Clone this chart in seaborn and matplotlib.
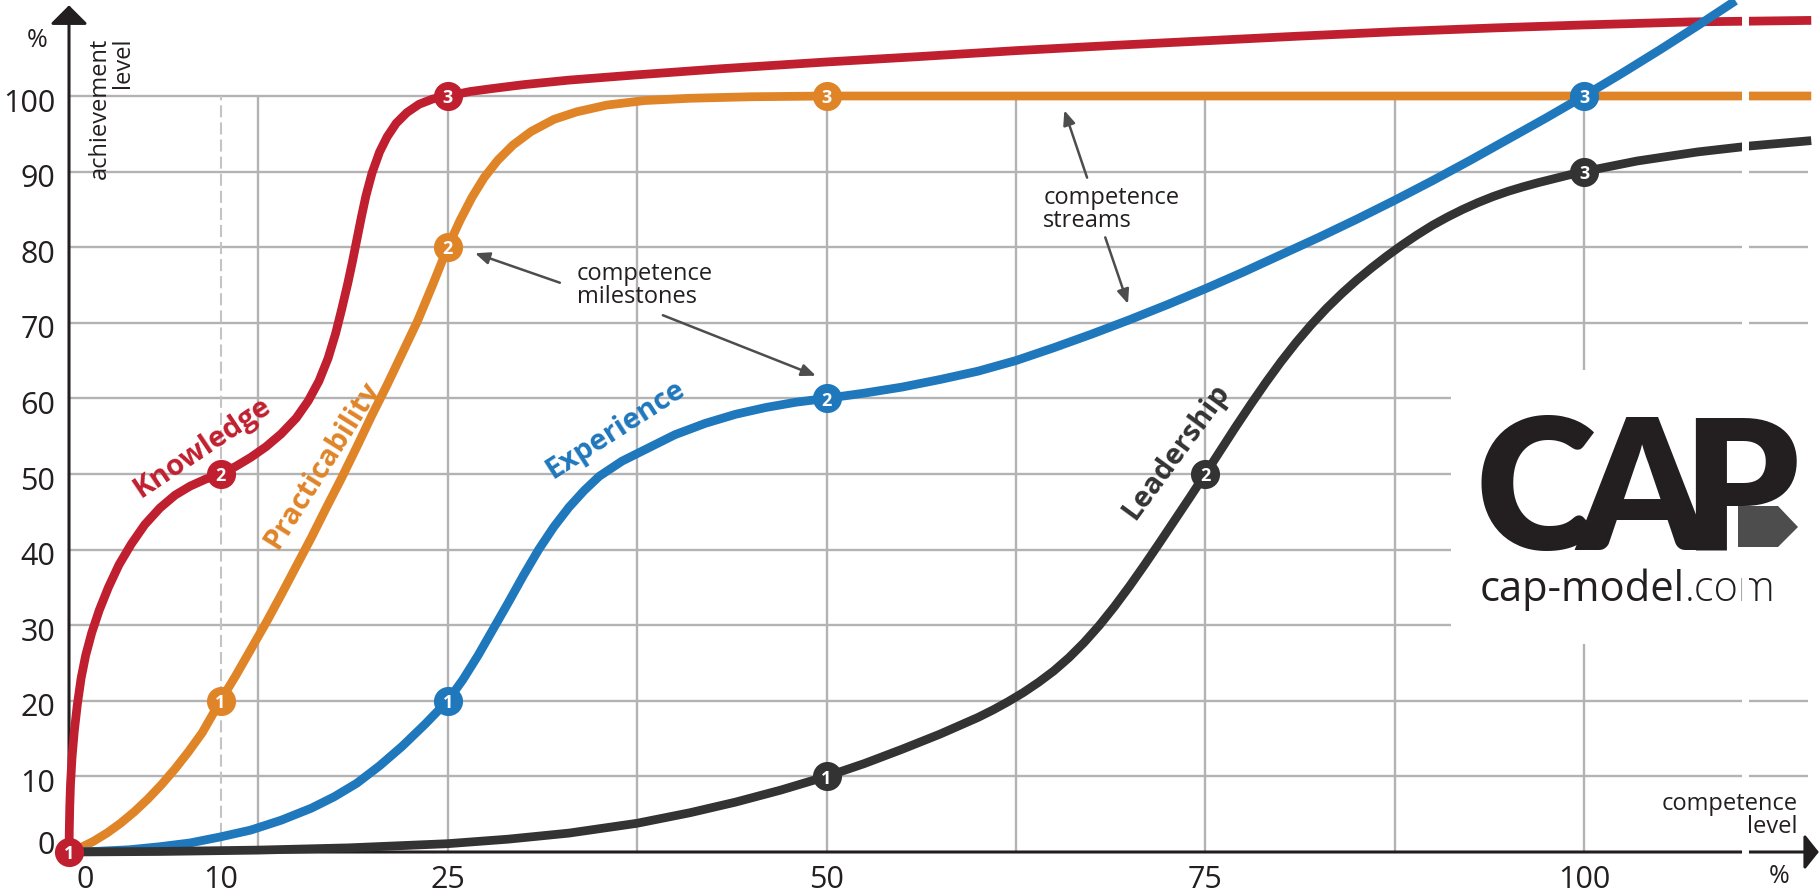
import matplotlib.pyplot as plt
import seaborn as sns
from matplotlib.patches import Polygon
from matplotlib.transforms import ScaledTranslation

# competence level (x, %) vs achievement level (y, %)
knowledge_x = [0, 0.02, 0.05, 0.1, 0.2, 0.35, 0.55, 0.8, 1.1, 1.5, 2.0, 2.6, 3.3, 4.1, 5.0,
               6.0, 7.0, 8.0, 9.0, 10, 11, 12, 13, 14, 15, 15.8, 16.5, 17.1, 17.6, 18.0,
               18.4, 18.7, 19.0, 19.3, 19.6, 20.0, 20.5, 21.0, 21.6, 22.3, 23.1, 24.0, 25,
               26.5, 28, 30, 33, 37.5, 43, 50, 56, 62.5, 69, 75, 81, 87.5, 94, 100, 107, 115]
knowledge_y = [0, 3, 6, 9, 12.5, 16, 19.5, 23, 26, 29, 32, 35, 38, 40.7, 43.3, 45.5, 47.2,
               48.4, 49.3, 50, 51, 52.2, 53.6, 55.3, 57.4, 59.7, 62.3, 65.3, 68.6, 71.8,
               75.2, 78, 81, 84, 86.8, 89.8, 92.6, 94.6, 96.4, 97.8, 98.9, 99.6, 100, 100.6,
               101, 101.5, 102.1, 102.8, 103.6, 104.5, 105.2, 106, 106.7, 107.3, 107.9,
               108.5, 109, 109.4, 109.8, 110]

practicability_x = [0, 0.8, 1.6, 2.5, 3.4, 4.3, 5.2, 6.1, 7.0, 7.9, 8.8, 10, 11, 12, 13, 14,
                    15, 16, 17, 18, 19, 20, 21, 22, 23, 24, 25, 25.8, 26.6, 27.4, 28.3, 29.3,
                    30.5, 32, 33.5, 35.5, 38, 41, 45, 50, 75, 100, 115]
practicability_y = [0, 0.6, 1.4, 2.5, 3.8, 5.3, 7.0, 8.9, 11, 13.3, 15.8, 20, 23.3, 26.8,
                    30.3, 34, 37.8, 41.6, 45.6, 49.5, 53.6, 57.8, 61.8, 66, 70.2, 75, 80,
                    83.5, 86.6, 89.2, 91.5, 93.5, 95.3, 96.9, 97.9, 98.8, 99.4, 99.7, 99.9,
                    100, 100, 100, 100]

experience_x = [0, 2, 4, 6, 8, 10, 12, 14, 16, 17.5, 19, 20.5, 22, 23.5, 25, 26, 27, 28, 29,
                30, 31, 32, 33, 34, 35, 36.5, 38, 40, 42, 44, 46, 48, 50, 52.5, 55, 57.5, 60,
                62.5, 65, 67.5, 70, 72.5, 75, 77.5, 80, 82.5, 85, 87.5, 90, 92.5, 95, 97.5,
                100, 102.5, 105, 107.5, 110]
experience_y = [0, 0.1, 0.3, 0.7, 1.2, 2.0, 2.9, 4.2, 5.8, 7.3, 9.1, 11.4, 14.0, 16.9, 20,
                22.8, 26, 29.5, 33, 36.6, 40, 43, 45.6, 47.8, 49.7, 51.7, 53.2, 55.2, 56.7,
                57.9, 58.8, 59.5, 60, 60.7, 61.5, 62.5, 63.6, 65, 66.7, 68.5, 70.4, 72.4,
                74.5, 76.7, 79.0, 81.3, 83.7, 86.2, 88.8, 91.5, 94.3, 97.1, 100, 103, 106.1,
                109.3, 112.6]

leadership_x = [0, 6, 12.5, 18.5, 25, 29, 33, 37.5, 41, 44, 47, 50, 52.5, 55, 57.5, 60,
                61, 62, 63, 64, 65, 66, 67, 68, 69, 70, 71, 72, 73, 74, 75, 76, 77, 78, 79,
                80, 81, 82, 83, 84, 85, 86, 87, 88, 89, 90, 91, 92, 93, 94, 95, 96, 97, 98,
                99, 100, 103.5, 107.5, 111, 115]
leadership_y = [0, 0.07, 0.25, 0.55, 1.1, 1.7, 2.5, 3.8, 5.2, 6.6, 8.2, 10, 11.7, 13.6,
                15.6, 17.8, 18.8, 19.9, 21.1, 22.45, 23.95, 25.7, 27.7, 29.95, 32.45, 35.15,
                38.0, 40.95, 43.95, 46.95, 50, 53.1, 56.2, 59.2, 62.1, 64.85, 67.4, 69.75,
                71.9, 73.85, 75.65, 77.3, 78.85, 80.3, 81.65, 82.9, 84.0, 85.0, 85.9, 86.7,
                87.4, 88.0, 88.55, 89.05, 89.55, 90.0, 91.4, 92.6, 93.4, 94.1]

# milestones 1, 2, 3 of each stream
knowledge_ms_x, knowledge_ms_y = [0, 10, 25], [0, 50, 100]
practicability_ms_x, practicability_ms_y = [10, 25, 50], [20, 80, 100]
experience_ms_x, experience_ms_y = [25, 50, 100], [20, 60, 100]
leadership_ms_x, leadership_ms_y = [50, 75, 100], [10, 50, 90]

x_ticks = [0, 10, 25, 50, 75, 100]
y_ticks = [0, 10, 20, 30, 40, 50, 60, 70, 80, 90, 100]

RED = "#c01f2f"
ORANGE = "#e08428"
BLUE = "#1f77bc"
DARK = "#333333"
GRID = "#b3b3b3"
INK = "#231f20"
ARROW = "#4d4d4d"

W, H = 1819, 896

sns.set_style("white")
plt.rcParams["font.family"] = ["Open Sans", "DejaVu Sans"]


def px(x, y):
    return x / W, 1 - y / H


fig = plt.figure(figsize=(W / 100, H / 100), dpi=100)
ax = fig.add_axes([69 / W, 44 / H, 1750 / W, 852 / H])

# grid (lower right rows stop at the logo)
ax.hlines([10, 20, 70, 80, 90, 100], 0, 114.8, color=GRID, lw=1.7, zorder=1)
ax.hlines([30, 40, 50, 60], 0, 91.2, color=GRID, lw=1.7, zorder=1)
ax.vlines([12.5, 25, 37.5, 50, 62.5, 75, 87.5], 0, 100, color=GRID, lw=1.7, zorder=1)
ax.vlines([100, 100], [0, 63.8], [27.5, 100], color=GRID, lw=1.7, zorder=1)
ax.vlines(10, 0, 100, color="#c4c4c4", lw=1.5, linestyles=(0, (5.8, 2.4)), zorder=1)

streams = [
    (practicability_x, practicability_y, practicability_ms_x, practicability_ms_y, ORANGE, 3),
    (knowledge_x, knowledge_y, knowledge_ms_x, knowledge_ms_y, RED, 4),
    (experience_x, experience_y, experience_ms_x, experience_ms_y, BLUE, 5),
    (leadership_x, leadership_y, leadership_ms_x, leadership_ms_y, DARK, 6),
]
for xs, ys, mx, my, color, z in streams:
    sns.lineplot(x=xs, y=ys, ax=ax, color=color, linewidth=6.3, sort=False,
                 estimator=None, zorder=z, clip_on=False, solid_capstyle="butt",
                 solid_joinstyle="round")
for xs, ys, mx, my, color, z in streams:
    sns.scatterplot(x=mx, y=my, ax=ax, s=440, color=color, linewidth=0,
                    zorder=20, clip_on=False, legend=False)
    for i, (a, b) in enumerate(zip(mx, my), 1):
        ax.text(a, b - 0.3, str(i), color="white", fontsize=13, fontweight="bold",
                ha="center", va="center", zorder=21, clip_on=False)

# stream names along the curves
stream_labels = [
    ("Knowledge", 8.8, 53.5, 33.8, RED),
    ("Practicability", 16.7, 51.2, 57.8, ORANGE),
    ("Experience", 36.1, 55.8, 32.7, BLUE),
    ("Leadership", 73.1, 52.9, 53.7, DARK),
]
for name, lx, ly, rot, color in stream_labels:
    ax.text(lx, ly, name, color=color, fontsize=21, fontweight="bold", rotation=rot,
            rotation_mode="anchor", ha="center", va="center", zorder=7)

# axes with arrow heads
ax.annotate("", xy=(115.5, 0), xytext=(0, 0), annotation_clip=False,
            arrowprops=dict(arrowstyle="-|>,head_length=0.86,head_width=1.08", color=INK,
                            lw=2.2, shrinkA=0, shrinkB=0, mutation_scale=10), zorder=2)
ax.annotate("", xy=(0, 112.0), xytext=(0, 0), annotation_clip=False,
            arrowprops=dict(arrowstyle="-|>,head_length=1.15,head_width=1.15", color=INK,
                            lw=2.2, shrinkA=0, shrinkB=0, mutation_scale=10), zorder=2)

# scale break
ax.plot([110.6, 110.6], [-2, 112], color="white", lw=5, zorder=9, clip_on=False)

# annotations
note_style = dict(arrowstyle="-|>,head_length=0.86,head_width=0.36", color=ARROW,
                  lw=1.8, shrinkA=0, shrinkB=0, mutation_scale=10)
ax.text(33.5, 78.0, "competence\nmilestones", fontsize=17, color=INK, ha="left",
        va="top", linespacing=0.95, zorder=10)
ax.annotate("", xy=(26.8, 79.2), xytext=(32.4, 75.3), arrowprops=note_style, zorder=10)
ax.annotate("", xy=(49.3, 63.0), xytext=(39.2, 71.0), arrowprops=note_style, zorder=10)
ax.text(64.3, 88.1, "competence\nstreams", fontsize=17, color=INK, ha="left",
        va="top", linespacing=0.95, zorder=10)
ax.annotate("", xy=(65.7, 98.1), xytext=(67.2, 89.2), arrowprops=note_style, zorder=10)
ax.annotate("", xy=(69.9, 72.5), xytext=(68.4, 81.3), arrowprops=note_style, zorder=10)

ax.text(1.25, 107.7, "achievement\nlevel", rotation=90, fontsize=17, color=INK,
        ha="left", va="top", multialignment="right", linespacing=0.95, zorder=10)
ax.text(-2.1, 107.3, "%", fontsize=18, color=INK, ha="center", va="center", clip_on=False)
ax.text(114.1, 7.9, "competence\nlevel", fontsize=17, color=INK, ha="right", va="top",
        multialignment="right", linespacing=0.95, zorder=10)
ax.text(112.9, -3.3, "%", fontsize=18, color=INK, ha="center", va="center", clip_on=False)

# ticks
ax.set_xlim(0, 1750 / 15.15)
ax.set_ylim(0, 852 / 7.56)
ax.set_xticks(x_ticks)
ax.set_xticklabels([str(v) for v in x_ticks])
ax.set_yticks(y_ticks)
ax.set_yticklabels([str(v) for v in y_ticks])
ax.tick_params(axis="both", length=0, labelsize=22, labelcolor=INK)
ax.tick_params(axis="x", pad=9)
ax.tick_params(axis="y", pad=10)
for s in ax.spines.values():
    s.set_visible(False)
ax.set_xlabel("")
ax.set_ylabel("")
for lab in ax.get_xticklabels():
    if lab.get_text() == "0":
        lab.set_transform(lab.get_transform() + ScaledTranslation(16 / 100, 0, fig.dpi_scale_trans))
for lab in ax.get_yticklabels():
    dy = 10 if lab.get_text() == "0" else -4
    lab.set_transform(lab.get_transform() + ScaledTranslation(0, dy / 100, fig.dpi_scale_trans))

# cap-model logo
logo_font = ["Lato", "DejaVu Sans"]
for letter, lx in [("C", 1536), ("A", 1642), ("P", 1740)]:
    fig.text(*px(lx, 550), letter, fontsize=132, fontweight="heavy", color=INK,
             ha="center", va="baseline", family=logo_font)
fig.patches.append(Polygon([px(1738, 506), px(1778, 506), px(1798, 527), px(1778, 547),
                            px(1738, 547)], closed=True, transform=fig.transFigure,
                           facecolor="#4d4d4d", edgecolor="none"))
site = fig.text(*px(1480, 611), "cap-model", fontsize=30, color=INK, fontweight="medium",
                ha="left", va="bottom")
ax.annotate(".com", xy=(1, 0), xycoords=site, fontsize=30, color=INK, fontweight="light",
            ha="left", va="bottom", annotation_clip=False)
plt.savefig("out.png", dpi=100)
